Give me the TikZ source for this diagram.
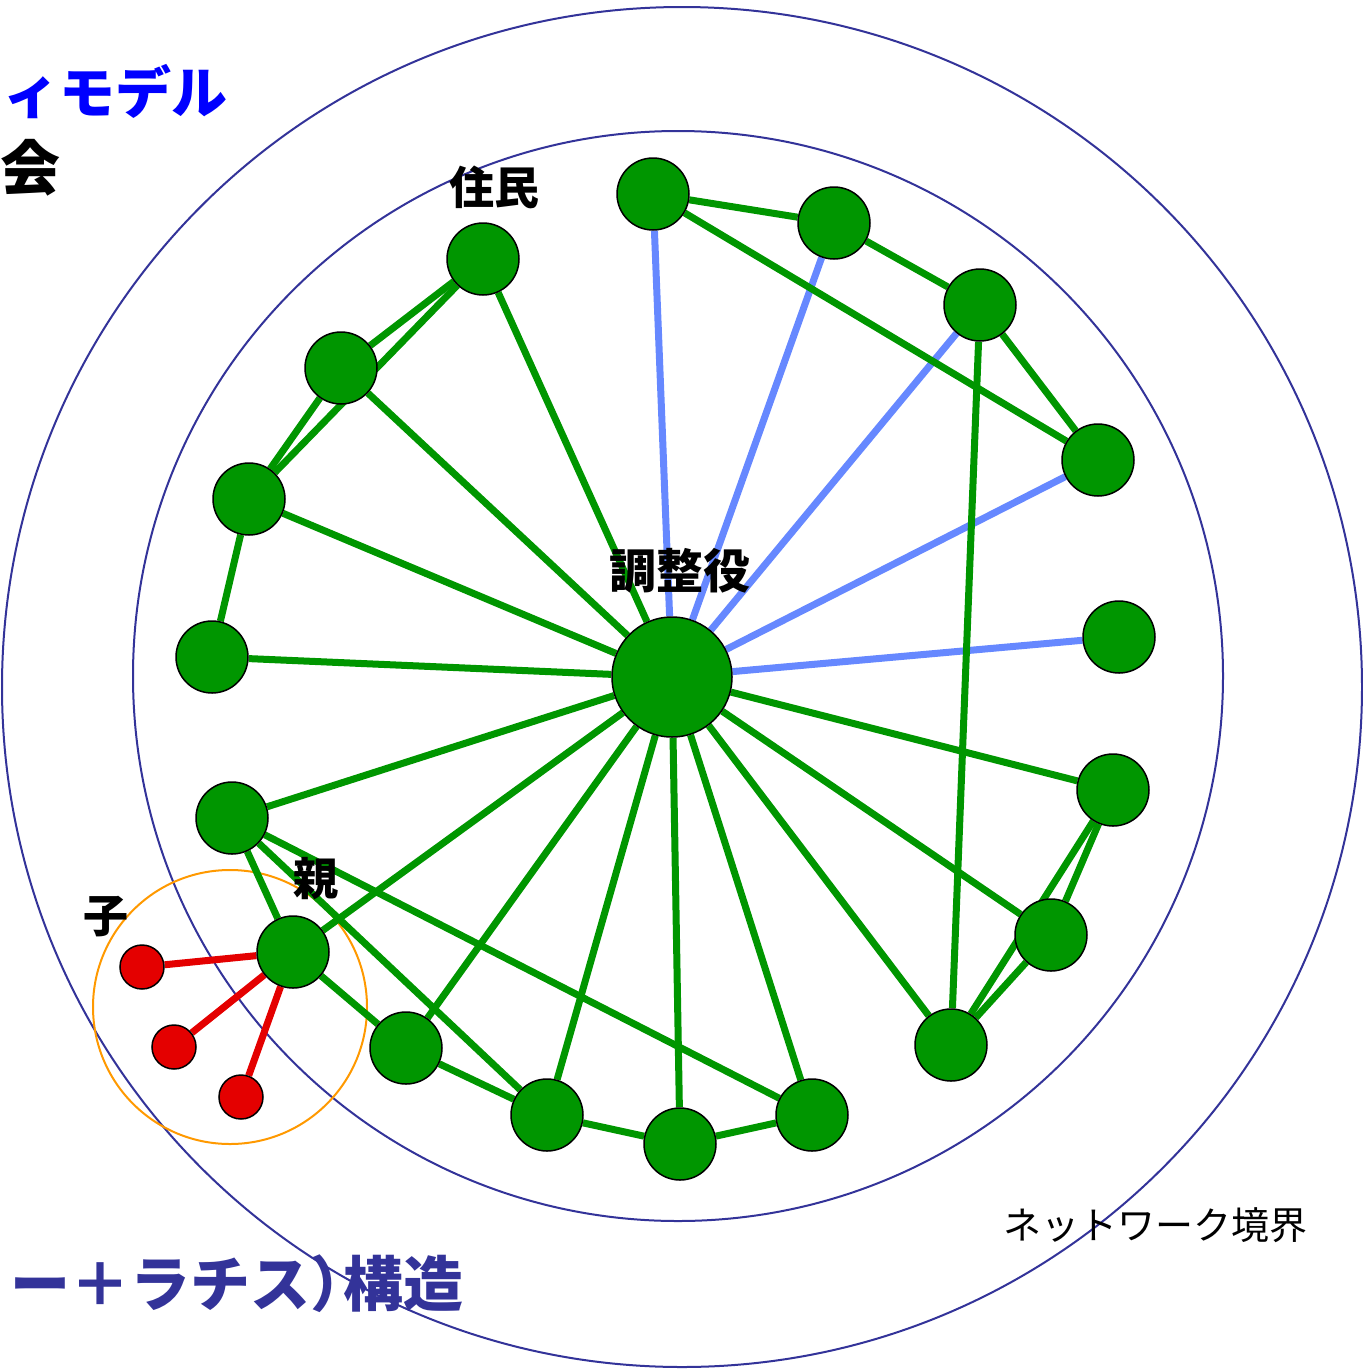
\documentclass[tikz,border=0pt]{standalone}
\usepackage{fontspec}
\setmainfont{Noto Sans CJK JP}
\usepackage{tikz}
\usetikzlibrary{backgrounds}

\definecolor{nodegreen}{RGB}{0,150,0}
\definecolor{linkblue}{RGB}{102,136,255}
\definecolor{kidred}{RGB}{228,0,0}
\definecolor{ringblue}{RGB}{51,51,153}
\definecolor{groupor}{RGB}{255,153,0}

\begin{document}
\begin{tikzpicture}[x=1pt,y=-1pt,
            member/.style={circle,draw=black,line width=1.5pt,fill=nodegreen,minimum size=72pt,inner sep=0pt},
            hub/.style={member,minimum size=120pt},
            kid/.style={circle,draw=black,line width=1.5pt,fill=kidred,minimum size=44pt,inner sep=0pt},
            tie/.style={line width=7pt,nodegreen},
            link/.style={line width=7pt,linkblue},
            kidtie/.style={line width=7pt,kidred},
            lbl/.style={font=\fontsize{45}{50}\selectfont\bfseries}
        ]
        \useasboundingbox (0,0) rectangle (1363,1369);
        % coordinator and residents
        \node[hub] (coord) at (672,677) {};
        \node[member] (r1) at (483,259) {};
        \node[member] (r2) at (341,368) {};
        \node[member] (r3) at (249,499) {};
        \node[member] (r4) at (212,657) {};
        \node[member] (r5) at (232,818) {};
        \node[member] (oya) at (293,952) {};
        \node[member] (r7) at (406,1048) {};
        \node[member] (r8) at (547,1115) {};
        \node[member] (r9) at (680,1144) {};
        \node[member] (r10) at (812,1115) {};
        \node[member] (r11) at (951,1045) {};
        \node[member] (r12) at (1051,935) {};
        \node[member] (r13) at (1113,790) {};
        \node[member] (r14) at (1119,637) {};
        \node[member] (r15) at (1098,460) {};
        \node[member] (r16) at (980,305) {};
        \node[member] (r17) at (834,223) {};
        \node[member] (r18) at (653,194) {};
        \node[kid] (k1) at (142,967) {};
        \node[kid] (k2) at (174,1047) {};
        \node[kid] (k3) at (241,1097) {};

        \begin{scope}[on background layer]
            \draw[ringblue,line width=2pt] (682,687) circle[radius=680];
            \draw[ringblue,line width=2pt] (678,676) circle[radius=545];
            \draw[groupor,line width=2pt] (230,1007) circle[radius=137];
            \foreach \r in {r1,r2,r3,r4,r5,oya,r7,r8,r9,r10,r11,r12,r13}
                \draw[tie] (coord) -- (\r);
            \foreach \r in {r14,r15,r16,r17,r18}
                \draw[link] (coord) -- (\r);
            \foreach \a/\b in {r1/r2,r1/r3,r2/r3,r3/r4,r5/oya,r5/r8,r5/r10,oya/r7,r7/r8,r8/r9,r9/r10,
                    r11/r12,r11/r13,r12/r13,r11/r16,r16/r15,r17/r16,r18/r17,r18/r15}
                \draw[tie] (\a) -- (\b);
            \foreach \k in {k1,k2,k3}
                \draw[kidtie] (oya) -- (\k);
        \end{scope}

        % labels
        \node[lbl] (lcoord) at (680,571) {\fontsize{47}{50}\selectfont 調整役};
        \node[lbl] (lres) at (494,187) {住民};
        \node[lbl] (loya) at (316,879) {親};
        \node[lbl] (lkid) at (106,917) {子};
        \node[font=\fontsize{38}{42}\selectfont] (lbound) at (1155,1225) {ネットワーク境界};
        \node[anchor=east,inner sep=0pt,blue,font=\fontsize{56}{60}\selectfont\bfseries] (ttop) at (228,92) {ィモデル};
        \node[inner sep=0pt,font=\fontsize{60}{62}\selectfont\bfseries] (tsoc) at (30,168) {会};
        \node[anchor=east,inner sep=0pt,ringblue,font=\fontsize{60}{62}\selectfont\bfseries] (tbot) at (464,1284) {ー＋ラチス）\kern-0.45em 構造};
    \end{tikzpicture}
\end{document}
